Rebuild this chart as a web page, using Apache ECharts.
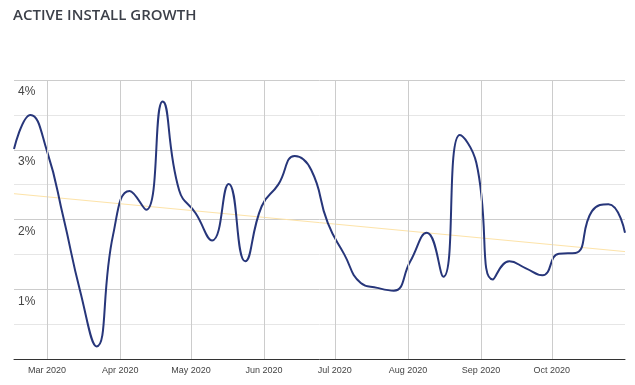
<!DOCTYPE html>
<html><head><meta charset="utf-8">
<script src="https://cdn.jsdelivr.net/npm/echarts@6/dist/echarts.min.js"></script>
<style>html,body{margin:0;padding:0;background:#fff}#chart{width:635px;height:385px}</style>
</head><body><div id="chart"></div>
<script>
const titleText = 'ACTIVE INSTALL GROWTH';
const dates = [
  '2020-02-16','2020-02-23','2020-03-01','2020-03-08','2020-03-15','2020-03-22','2020-03-29',
  '2020-04-05','2020-04-12','2020-04-19','2020-04-26','2020-05-03','2020-05-10','2020-05-17',
  '2020-05-24','2020-05-31','2020-06-07','2020-06-14','2020-06-21','2020-06-28','2020-07-05',
  '2020-07-12','2020-07-19','2020-07-26','2020-08-02','2020-08-09','2020-08-16','2020-08-23',
  '2020-08-30','2020-09-06','2020-09-13','2020-09-20','2020-09-27','2020-10-04','2020-10-11',
  '2020-10-18','2020-10-25','2020-11-01'
];
const growth = [
  3.01, 3.50, 2.98, 2.02, 0.98, 0.18, 1.78,
  2.41, 2.14, 3.69, 2.42, 2.09, 1.70, 2.51,
  1.40, 2.19, 2.50, 2.91, 2.71, 1.95, 1.50,
  1.09, 1.02, 0.98, 1.40, 1.81, 1.18, 3.21,
  2.81, 1.14, 1.40, 1.30, 1.20, 1.51, 1.52,
  2.12, 2.22, 1.81
];
const monthTicks = ['2020-03-01','2020-04-01','2020-05-01','2020-06-01','2020-07-01','2020-08-01','2020-09-01','2020-10-01'];
const trendDates = ['2020-02-16', '2020-11-01'];
const trendValues = [2.37, 1.54];
const yMin = 0, yMax = 4, yStep = 0.5;

const chart = echarts.init(document.getElementById('chart'), null, {renderer: 'canvas'});
chart.setOption({
  animation: false,
  backgroundColor: '#fff',
  title: {
    text: titleText,
    left: 13, top: 8, padding: 0,
    textStyle: {fontFamily: 'Open Sans', fontWeight: 600, fontSize: 15, color: '#3c4049'}
  },
  grid: {left: 14, right: 10, top: 80, bottom: 26, containLabel: false},
  xAxis: {
    type: 'time',
    min: dates[0], max: dates[dates.length - 1],
    minInterval: 28 * 86400000,
    maxInterval: 31 * 86400000,
    axisLine: {lineStyle: {color: '#333', width: 1}},
    axisTick: {show: false},
    splitLine: {show: false},
    axisLabel: {
      formatter: '{MMM} {yyyy}',
      fontFamily: 'Liberation Sans, Arial', fontSize: 9, color: '#444', margin: 7,
      showMinLabel: false, showMaxLabel: false
    }
  },
  yAxis: {
    type: 'value', min: yMin, max: yMax, interval: yStep,
    axisLine: {show: false}, axisTick: {show: false},
    splitLine: {show: true, lineStyle: {color: ['#cccccc', '#e6e6e6'], width: 1}},
    axisLabel: {
      inside: true, margin: 4, align: 'left', verticalAlign: 'top',
      padding: [6, 0, 0, 0],
      fontFamily: 'Liberation Sans, Arial', fontSize: 12, color: '#444',
      formatter: function (v) { return (v > 0 && Number.isInteger(v)) ? v + '%' : ''; }
    }
  },
  series: [
    {
      type: 'line', name: 'trend', z: 1,
      data: trendDates.map((d, i) => [d, trendValues[i]]),
      symbol: 'none', silent: true,
      lineStyle: {color: '#fde3a8', width: 1},
      markLine: {
        silent: true, symbol: 'none', animation: false,
        label: {show: false},
        lineStyle: {color: '#cccccc', width: 1, type: 'solid'},
        emphasis: {disabled: true},
        data: monthTicks.map(d => ({xAxis: d}))
      }
    },
    {
      type: 'line', name: 'growth', z: 3,
      data: dates.map((d, i) => [d, growth[i]]),
      smooth: 0.5, symbol: 'none',
      lineStyle: {color: '#27367a', width: 2}
    }
  ]
});
</script>
</body></html>
